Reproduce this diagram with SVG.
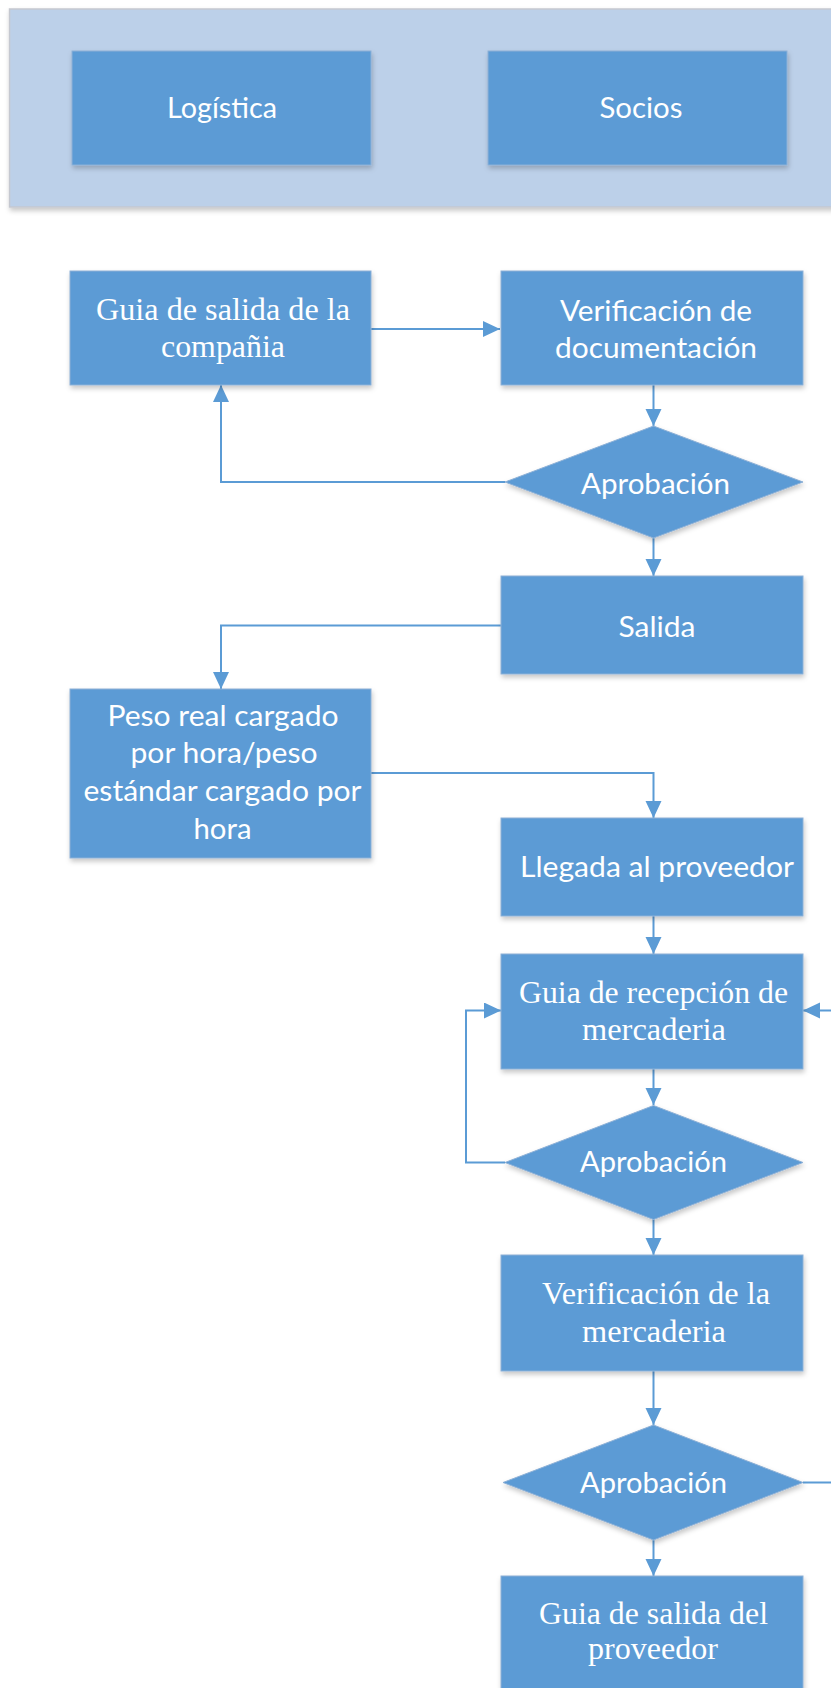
<svg xmlns="http://www.w3.org/2000/svg" width="831" height="1688" viewBox="0 0 831 1688">
<defs>
<filter id="sh" x="-10%" y="-10%" width="125%" height="130%">
<feDropShadow dx="1" dy="3" stdDeviation="2.5" flood-color="#000" flood-opacity="0.22"/>
</filter>
<marker id="ah" markerUnits="userSpaceOnUse" markerWidth="18" markerHeight="18" refX="17" refY="8" orient="auto">
<path d="M0,0 L17,8 L0,16 Z" fill="#5B9BD5"/>
</marker>
</defs>
<style>
.box{fill:#5B9BD5;stroke:#8DB0D6;stroke-width:1;filter:url(#sh)}
.ban{fill:#BCD0E9;stroke:#C5C8D0;stroke-width:1.5;filter:url(#sh)}
.sans{font-family:Lato,"Liberation Sans",sans-serif;font-size:28px;fill:#FFFFFF;text-anchor:middle}
.serif{font-family:"Liberation Serif","Times New Roman",serif;font-size:32px;fill:#FFFFFF;text-anchor:middle}
.con{fill:none;stroke:#5B9BD5;stroke-width:2;marker-end:url(#ah)}
</style>
<rect width="831" height="1688" fill="#FFFFFF"/>
<g id="banner">
<rect class="ban" x="9.5" y="9" width="850" height="198"/>
</g>
<g id="logistica">
<rect class="box" x="72" y="51" width="299" height="114"/>
<text class="sans" x="222" y="118" textLength="110" lengthAdjust="spacingAndGlyphs">Logística</text>
</g>
<g id="socios">
<rect class="box" x="488" y="51" width="299" height="114"/>
<text class="sans" x="641" y="118" textLength="83" lengthAdjust="spacingAndGlyphs">Socios</text>
</g>
<g id="connectors">
<path class="con" d="M371,329 H500"/>
<path class="con" d="M653.5,385 V426"/>
<path class="con" d="M505,482 H221 V385"/>
<path class="con" d="M653.5,538 V576"/>
<path class="con" d="M501,625.5 H221 V689"/>
<path class="con" d="M371,773 H653.5 V818"/>
<path class="con" d="M653.5,916 V954"/>
<path class="con" d="M653.5,1069 V1105"/>
<path class="con" d="M505,1162.5 H466 V1010.5 H501"/>
<path class="con" d="M653.5,1219.5 V1255"/>
<path class="con" d="M653.5,1371 V1425"/>
<path class="con" d="M803,1482.5 H860 V1010.5 H803"/>
<path class="con" d="M653.5,1540 V1576"/>
</g>
<g id="guia-salida-compania">
<rect class="box" x="70" y="271" width="301" height="114"/>
<text class="serif" x="223" y="320" textLength="254" lengthAdjust="spacingAndGlyphs">Guia de salida de la</text>
<text class="serif" x="223" y="357" textLength="124" lengthAdjust="spacingAndGlyphs">compañia</text>
</g>
<g id="verificacion-documentacion">
<rect class="box" x="501" y="271" width="302" height="114"/>
<text class="sans" x="656" y="321" textLength="192" lengthAdjust="spacingAndGlyphs">Verificación de</text>
<text class="sans" x="656" y="358" textLength="202" lengthAdjust="spacingAndGlyphs">documentación</text>
</g>
<g id="aprobacion-1">
<polygon class="box" points="653.5,426 803,482 653.5,538 505,482"/>
<text class="sans" x="655.5" y="494" textLength="149" lengthAdjust="spacingAndGlyphs">Aprobación</text>
</g>
<g id="salida">
<rect class="box" x="501" y="576" width="302" height="98"/>
<text class="sans" x="657" y="637" textLength="77" lengthAdjust="spacingAndGlyphs">Salida</text>
</g>
<g id="peso">
<rect class="box" x="70" y="689" width="301" height="169"/>
<text class="sans" x="223" y="726" textLength="231" lengthAdjust="spacingAndGlyphs">Peso real cargado</text>
<text class="sans" x="224" y="763" textLength="187" lengthAdjust="spacingAndGlyphs">por hora/peso</text>
<text class="sans" x="222.5" y="801" textLength="278" lengthAdjust="spacingAndGlyphs">estándar cargado por</text>
<text class="sans" x="222.5" y="839" textLength="58" lengthAdjust="spacingAndGlyphs">hora</text>
</g>
<g id="llegada">
<rect class="box" x="501" y="818" width="302" height="98"/>
<text class="sans" x="657" y="877" textLength="274" lengthAdjust="spacingAndGlyphs">Llegada al proveedor</text>
</g>
<g id="guia-recepcion">
<rect class="box" x="501" y="954" width="302" height="115"/>
<text class="serif" x="653.5" y="1003" textLength="269" lengthAdjust="spacingAndGlyphs">Guia de recepción de</text>
<text class="serif" x="654" y="1040" textLength="144" lengthAdjust="spacingAndGlyphs">mercaderia</text>
</g>
<g id="aprobacion-2">
<polygon class="box" points="653.5,1105.5 803,1162.5 653.5,1219.5 505,1162.5"/>
<text class="sans" x="653.5" y="1172" textLength="147" lengthAdjust="spacingAndGlyphs">Aprobación</text>
</g>
<g id="verificacion-mercaderia">
<rect class="box" x="501" y="1255" width="302" height="116"/>
<text class="serif" x="656" y="1304" textLength="228" lengthAdjust="spacingAndGlyphs">Verificación de la</text>
<text class="serif" x="654" y="1342" textLength="144" lengthAdjust="spacingAndGlyphs">mercaderia</text>
</g>
<g id="aprobacion-3">
<polygon class="box" points="653.5,1425 803,1482.5 653.5,1540 503,1482.5"/>
<text class="sans" x="653.5" y="1493" textLength="147" lengthAdjust="spacingAndGlyphs">Aprobación</text>
</g>
<g id="guia-salida-proveedor">
<rect class="box" x="501" y="1576" width="302" height="130"/>
<text class="serif" x="653.5" y="1624" textLength="229" lengthAdjust="spacingAndGlyphs">Guia de salida del</text>
<text class="serif" x="653" y="1659" textLength="130" lengthAdjust="spacingAndGlyphs">proveedor</text>
</g>
</svg>
